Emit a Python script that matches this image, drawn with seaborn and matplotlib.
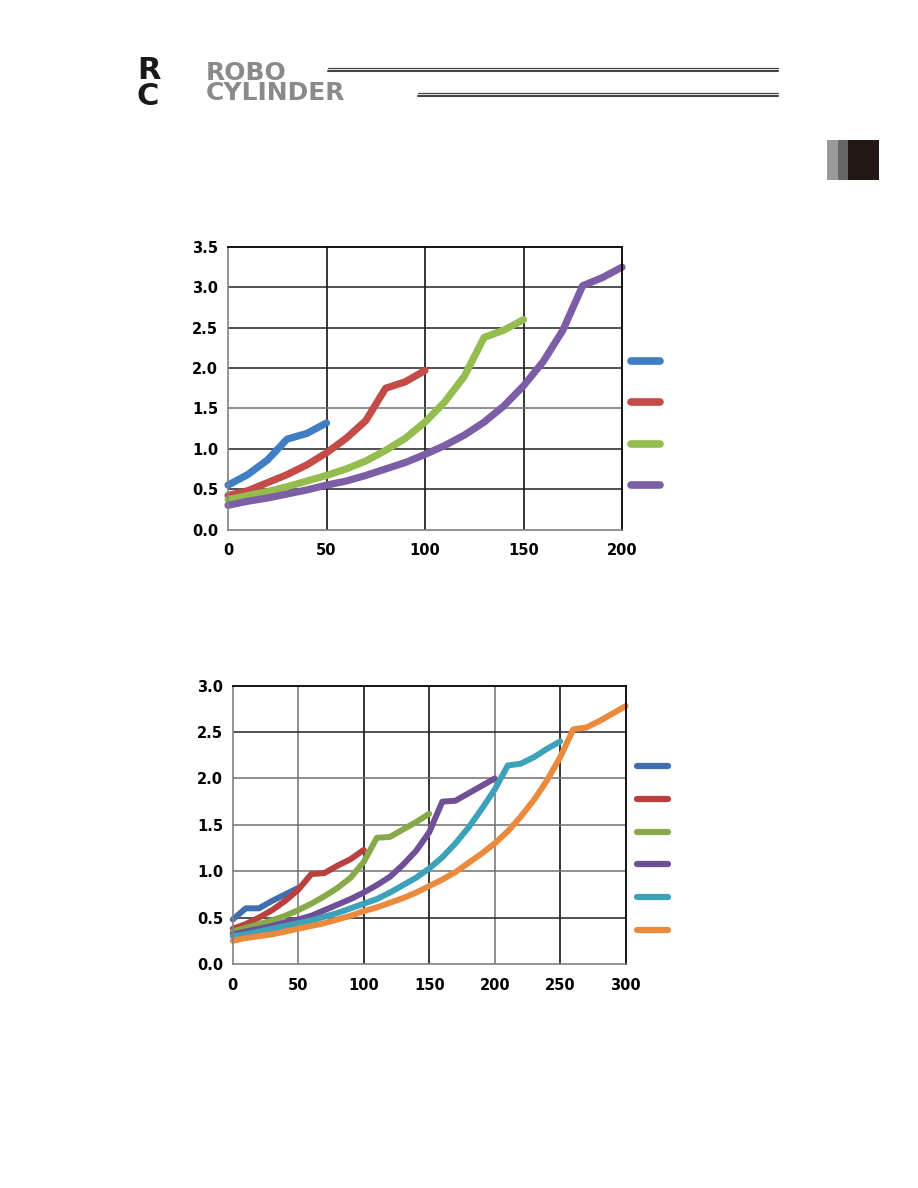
import numpy as np
import pandas as pd
import matplotlib
matplotlib.use("Agg")
import matplotlib.pyplot as plt
import seaborn as sns
from matplotlib.lines import Line2D
from matplotlib.patches import Rectangle

# ---------------- data ----------------
# Chart 1 (x step 10)
c1_blue = [0.55, 0.68, 0.86, 1.12, 1.19, 1.32]
c1_red = [0.42, 0.48, 0.58, 0.68, 0.80, 0.95, 1.13, 1.35, 1.75, 1.83, 1.97]
c1_green = [0.37, 0.42, 0.47, 0.53, 0.60, 0.67, 0.75, 0.85, 0.98, 1.13, 1.33,
            1.58, 1.90, 2.38, 2.47, 2.60]
c1_purple = [0.30, 0.35, 0.39, 0.44, 0.49, 0.55, 0.60, 0.67, 0.75, 0.83, 0.93,
             1.04, 1.17, 1.33, 1.53, 1.78, 2.08, 2.47, 3.02, 3.12, 3.25]

# Chart 2 (x step 10)
c2_blue = [0.48, 0.60, 0.60, 0.68, 0.75, 0.82]
c2_red = [0.38, 0.43, 0.50, 0.58, 0.68, 0.80, 0.97, 0.98, 1.06, 1.13, 1.23]
c2_green = [0.35, 0.39, 0.43, 0.47, 0.52, 0.58, 0.65, 0.73, 0.82, 0.93, 1.10,
            1.36, 1.37, 1.45, 1.53, 1.62]
c2_purple = [0.32, 0.35, 0.38, 0.41, 0.45, 0.48, 0.52, 0.58, 0.64, 0.70, 0.77,
             0.85, 0.94, 1.07, 1.22, 1.42, 1.75, 1.76, 1.84, 1.92, 2.00]
c2_teal = [0.30, 0.32, 0.35, 0.38, 0.41, 0.44, 0.47, 0.51, 0.55, 0.60, 0.65,
           0.70, 0.77, 0.85, 0.93, 1.03, 1.15, 1.30, 1.47, 1.67, 1.88,
           2.14, 2.16, 2.23, 2.32, 2.40]
c2_orange = [0.25, 0.28, 0.30, 0.32, 0.35, 0.38, 0.41, 0.44, 0.48, 0.52, 0.57,
             0.61, 0.66, 0.71, 0.77, 0.84, 0.91, 0.99, 1.09, 1.19, 1.30,
             1.43, 1.59, 1.77, 1.98, 2.23, 2.53, 2.55, 2.62, 2.70, 2.78]

x_step = 10
c1_ticks_x = [0, 50, 100, 150, 200]
c1_ticks_y = [0.0, 0.5, 1.0, 1.5, 2.0, 2.5, 3.0, 3.5]
c2_ticks_x = [0, 50, 100, 150, 200, 250, 300]
c2_ticks_y = [0.0, 0.5, 1.0, 1.5, 2.0, 2.5, 3.0]

pal1 = ["#3F7DC4", "#C44B48", "#94BC4E", "#7B5EA6"]
pal2 = ["#3F6FAE", "#B8403F", "#88A94A", "#6E4F98", "#3CA2B9", "#EB8A3C"]


def long_df(series):
    rows = []
    for name, vals in series:
        for i, v in enumerate(vals):
            rows.append({"x": i * x_step, "y": v, "s": name})
    return pd.DataFrame(rows)


df1 = long_df([("s1", c1_blue), ("s2", c1_red), ("s3", c1_green), ("s4", c1_purple)])
df2 = long_df([("s1", c2_blue), ("s2", c2_red), ("s3", c2_green), ("s4", c2_purple),
               ("s5", c2_teal), ("s6", c2_orange)])

sns.set_theme(style="white")
plt.rcParams["font.family"] = ["DejaVu Sans"]

fig = plt.figure(figsize=(9.18, 11.88), dpi=100)
fig.patch.set_facecolor("white")

W, H = 918.0, 1188.0


def axes_px(l, t, r, b):
    return fig.add_axes([l / W, 1 - b / H, (r - l) / W, (b - t) / H])


def style_axes(ax, xt, yt, black_x, black_y):
    ax.set_xlim(xt[0], xt[-1])
    ax.set_ylim(yt[0], yt[-1])
    ax.set_xticks(xt)
    ax.set_yticks(yt)
    ax.set_xticklabels([str(v) for v in xt])
    ax.set_yticklabels([f"{v:.1f}" for v in yt])
    ax.set_xlabel("")
    ax.set_ylabel("")
    ax.grid(False)
    for v in xt[1:-1]:
        ax.axvline(v, color="black" if v in black_x else "#707070", lw=1.1, zorder=0)
    for v in yt[1:-1]:
        ax.axhline(v, color="#222222" if v in black_y else "#707070", lw=1.1, zorder=0)
    for sp in ["top", "right"]:
        ax.spines[sp].set_color("black")
        ax.spines[sp].set_linewidth(1.3)
    for sp in ["left", "bottom"]:
        ax.spines[sp].set_color("#808080")
        ax.spines[sp].set_linewidth(1.2)
    ax.tick_params(axis="both", which="both", length=4, width=1, color="#808080",
                   labelsize=10.5, labelcolor="black", direction="out")
    ax.tick_params(axis="x", pad=6)
    ax.tick_params(axis="y", pad=3)
    for lab in ax.get_xticklabels() + ax.get_yticklabels():
        lab.set_fontweight("semibold")


# ---------------- chart 1 ----------------
ax1 = axes_px(228, 247, 622, 529.5)
sns.lineplot(data=df1, x="x", y="y", hue="s", palette=pal1, lw=5.2,
             ax=ax1, legend=False, sort=False)
for ln in ax1.lines:
    ln.set_solid_capstyle("round")
    ln.set_solid_joinstyle("round")
    ln.set_clip_on(False)
style_axes(ax1, c1_ticks_x, c1_ticks_y, black_x=[50, 100, 150], black_y=[0.5, 1.0, 2.0, 2.5, 3.0])
h1 = [Line2D([], [], color=c, lw=5.5, solid_capstyle="round") for c in pal1]
ax1.legend(h1, [""] * 4, loc="upper left", bbox_to_anchor=(1.022, 0.617),
           frameon=False, handlelength=2.1, handletextpad=0, labelspacing=1.95,
           borderaxespad=0, borderpad=0, fontsize=10)

# ---------------- chart 2 ----------------
ax2 = axes_px(232.7, 685.7, 625.7, 964)
sns.lineplot(data=df2, x="x", y="y", hue="s", palette=pal2, lw=4.3,
             ax=ax2, legend=False, sort=False)
for ln in ax2.lines:
    ln.set_solid_capstyle("round")
    ln.set_solid_joinstyle("round")
    ln.set_clip_on(False)
style_axes(ax2, c2_ticks_x, c2_ticks_y, black_x=[100, 150, 250], black_y=[0.5, 2.5])
h2 = [Line2D([], [], color=c, lw=4.5, solid_capstyle="round") for c in pal2]
ax2.legend(h2, [""] * 6, loc="upper left", bbox_to_anchor=(1.03, 0.733),
           frameon=False, handlelength=2.2, handletextpad=0, labelspacing=1.35,
           borderaxespad=0, borderpad=0, fontsize=10)

# ---------------- header logo ----------------
fig.text(137 / W, 1 - 105 / H, "R\nC", fontsize=22, fontweight="heavy", color="#1a1a1a",
         va="baseline", ha="left", family="DejaVu Sans", linespacing=0.85)
fig.text(206 / W, 1 - 100.5 / H, "ROBO\nCYLINDER", fontsize=18, fontweight="heavy",
         color="#8a8a8a", va="baseline", ha="left", family="DejaVu Sans",
         linespacing=0.82)
for (x0, y0) in [(328, 68), (418, 93)]:
    fig.add_artist(Line2D([x0 / W, 778 / W], [1 - y0 / H, 1 - y0 / H],
                          color="#444444", lw=0.9, transform=fig.transFigure))
    fig.add_artist(Line2D([x0 / W, 778 / W], [1 - (y0 + 3) / H, 1 - (y0 + 3) / H],
                          color="#444444", lw=1.5, transform=fig.transFigure))

# side tab
for (l, r, c) in [(827, 838, "#9a9a9a"), (838, 848, "#666666"), (848, 879, "#231815")]:
    fig.add_artist(Rectangle((l / W, 1 - 180 / H), (r - l) / W, 40 / H,
                             color=c, transform=fig.transFigure, lw=0))

fig.savefig("out.png", dpi=100, facecolor="white")
